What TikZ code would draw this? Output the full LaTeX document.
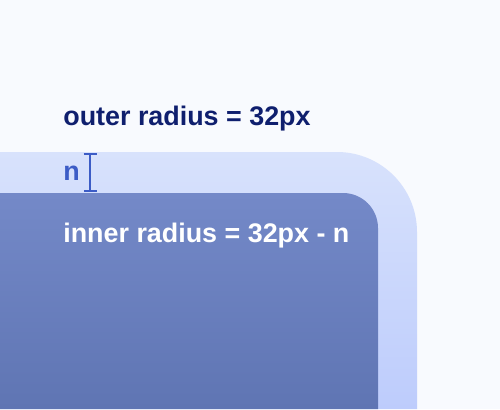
\documentclass[tikz,border=0pt]{standalone}
\usepackage{fontspec}
\setmainfont{Liberation Sans}
\usetikzlibrary{arrows.meta,positioning}
\definecolor{pagebg}{HTML}{F8FAFE}
\definecolor{outertop}{HTML}{D8E2FC}
\definecolor{outerbot}{HTML}{BDCCFC}
\definecolor{innertop}{HTML}{7489C8}
\definecolor{innerbot}{HTML}{5F75B3}
\definecolor{navy}{HTML}{0F1F6E}
\definecolor{gapblue}{HTML}{3C5CC6}

\begin{document}
\begin{tikzpicture}[
  x=0.02cm, y=-0.02cm,
  lbl/.style={anchor=base west, inner sep=0pt, font=\fontsize{15.3}{18}\selectfont\bfseries},
  gap/.style={{Bar[width=2.6mm,line width=1.1pt]}-{Bar[width=2.6mm,line width=1.1pt]}, line width=1.1pt, gapblue}
]
  % background
  \fill[pagebg] (0,0) rectangle (500,409);
  \useasboundingbox (0,0) rectangle (500,409);

  % outer and inner boxes
  \shade[top color=outertop, bottom color=outerbot]
    (0,409) -- (0,152) [rounded corners=1.6cm] -- (417,152) [sharp corners] -- (417,409) -- cycle;
  \shade[top color=innertop, bottom color=innerbot]
    (0,409) -- (0,193) [rounded corners=0.7cm] -- (378,193) [sharp corners] -- (378,409) -- cycle;

  % labels
  \node[lbl, text=navy] (outer) at (63,125) {outer radius = 32px};
  \node[lbl, text=gapblue] (n) at (63,180) {n};
  \node[lbl, text=white] (inner) at (63,242) {inner radius = 32px - n};

  % gap marker
  \coordinate (gtop) at (90,153);
  \coordinate (gbot) at (90,192);
  \draw[gap] (gtop) -- (gbot);
\end{tikzpicture}
\end{document}
